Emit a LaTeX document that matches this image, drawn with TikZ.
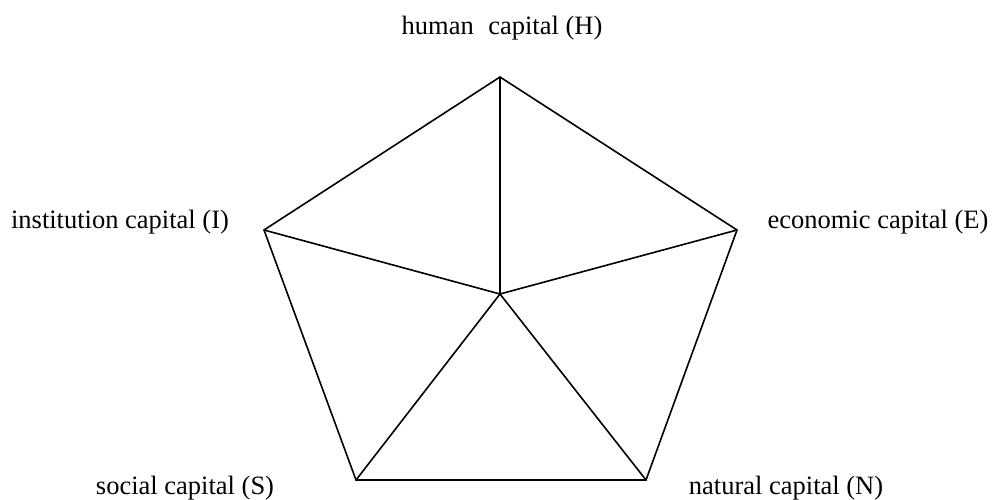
\documentclass[tikz,border=0pt]{standalone}
\usepackage{fontspec}
\setmainfont{Liberation Serif}
\begin{document}
\begin{tikzpicture}[x=1pt,y=-1pt,
  edge/.style={line width=1.6pt,line join=miter},
  lbl/.style={inner sep=0pt,font=\fontsize{26.5}{30}\selectfont}]
\useasboundingbox (0,0) rectangle (993,499);
\coordinate (H) at (500,77);
\coordinate (I) at (264,230);
\coordinate (E) at (737,230);
\coordinate (S) at (356,480);
\coordinate (N) at (646,480);
\coordinate (C) at (500,294);
\draw[edge] (H) -- (E) -- (N) -- (S) -- (I) -- cycle;
\draw[edge] (C) -- (H);
\draw[edge] (C) -- (I);
\draw[edge] (C) -- (E);
\draw[edge] (C) -- (S);
\draw[edge] (C) -- (N);
\node[lbl] (lH) at (502,28) {human\hspace{0.55em}capital (H)};
\node[lbl] (lI) at (120,222) {institution capital (I)};
\node[lbl] (lE) at (878,222) {economic capital (E)};
\node[lbl] (lS) at (185,488) {social capital (S)};
\node[lbl] (lN) at (786,488) {natural capital (N)};
\end{tikzpicture}
\end{document}
